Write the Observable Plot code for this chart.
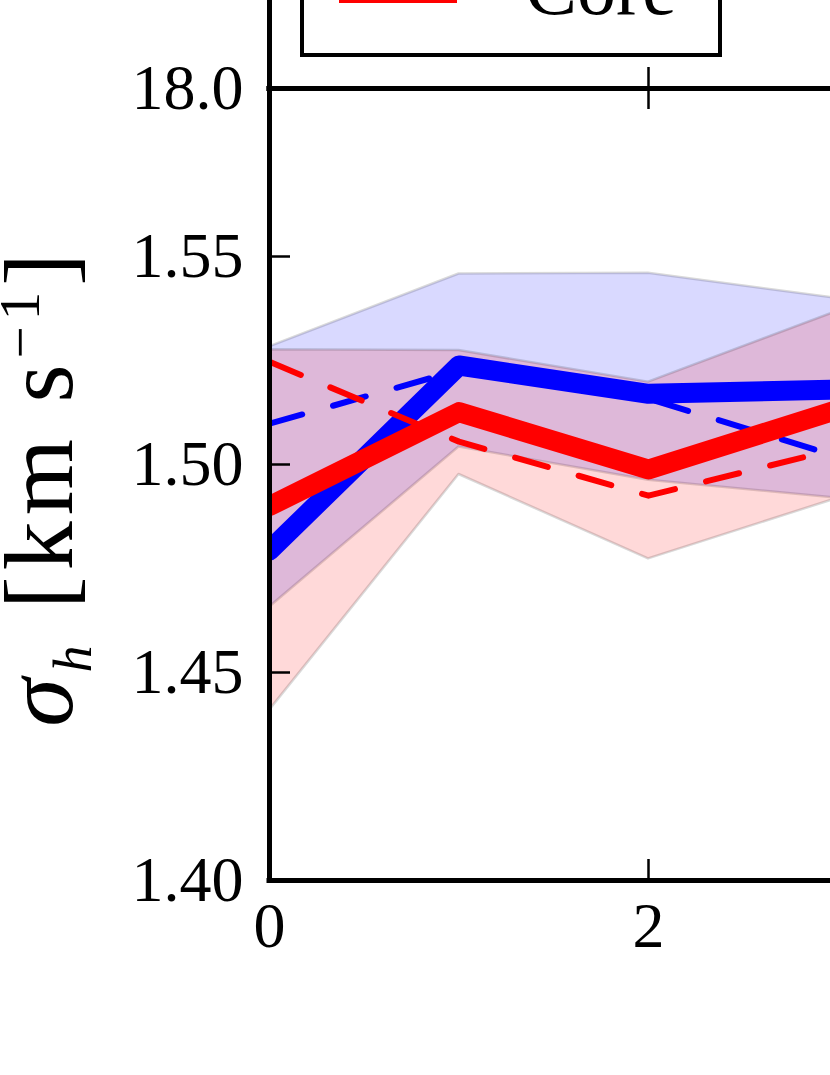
<!DOCTYPE html>
<html><head><meta charset="utf-8">
<script src="https://cdn.jsdelivr.net/npm/d3@7"></script>
<script src="https://cdn.jsdelivr.net/npm/@observablehq/plot@0.6"></script>
<style>
html,body{margin:0;padding:0;background:#fff;overflow:hidden}
#wrap{position:relative;width:830px;height:1075px;overflow:hidden;background:#fff}
#wrap svg{display:block}
</style></head><body><div id="wrap"></div>
<script>
// ---- data ----
const steps     = [0, 1, 2, 3];
const blueHi    = [1.5283, 1.5458, 1.5460, 1.5399];
const blueLo    = [1.4657, 1.5042, 1.4962, 1.4919];
const redHi     = [1.5276, 1.5274, 1.5198, 1.5369];
const redLo     = [1.4409, 1.4976, 1.4773, 1.4919];
const blueMean  = [1.4793, 1.5238, 1.5170, 1.5180];
const redMean   = [1.4900, 1.5126, 1.4988, 1.5132];
const blueMed   = [1.5098, 1.5227, 1.5158, 1.5019];
const redMed    = [1.5247, 1.5055, 1.4925, 1.5038];
const xTicks    = [0, 2];
const yTicks    = [1.40, 1.45, 1.50, 1.55];
const upperTicks = [18.0];
const legendLabels = ["Core"];

const rows = steps.map((t, i) => ({
  t, blueHi: blueHi[i], blueLo: blueLo[i], redHi: redHi[i], redLo: redLo[i],
  blueMean: blueMean[i], redMean: redMean[i], blueMed: blueMed[i], redMed: redMed[i]
}));

const W = 830, ML = 269, OVER = 12;
const xDomain = [0, (W - ML) / 189.5];
const yDomain = [1.40, 1.40 + 792 / 4160];
const upperDomain = [18.0, 18.5];
const serif = "'Liberation Serif', 'DejaVu Serif', serif";
const spine = {stroke: "black", strokeWidth: 5, strokeLinecap: "square"};
const tickSt = {stroke: "black", strokeWidth: 2.5};

const wrap = document.getElementById("wrap");

// ---- upper (cropped) panel ----
const upper = Plot.plot({
  width: W, height: 88,
  marginLeft: ML, marginRight: 0, marginTop: 0, marginBottom: 0,
  x: {domain: xDomain, label: null, axis: null},
  y: {domain: upperDomain, label: null},
  style: {fontFamily: serif, fontSize: "64px", color: "black", background: "transparent", overflow: "visible"},
  marks: [
    Plot.tickX(xTicks, {x: d => d, insetTop: 67, ...tickSt}),
    Plot.ruleX([0], spine),
    Plot.ruleY([upperDomain[0]], spine),
    Plot.axisY(upperTicks, {tickSize: 0, tickPadding: 26, tickFormat: d3.format(".1f"), label: null})
  ]
});
upper.style.marginBottom = `-${OVER}px`;
upper.style.position = "relative";
upper.style.zIndex = "2";
wrap.appendChild(upper);

// legend (cropped at the top of the picture)
const us = d3.select(upper);
us.append("rect").attr("x", 302).attr("y", -60).attr("width", 418).attr("height", 115)
  .attr("fill", "white").attr("stroke", "black").attr("stroke-width", 4);
us.append("line").attr("x1", 339).attr("x2", 457).attr("y1", 0).attr("y2", 0)
  .attr("stroke", "red").attr("stroke-width", 6);
us.append("text").attr("x", 525).attr("y", 14).attr("text-anchor", "start")
  .attr("font-family", serif).attr("font-size", 78).attr("fill", "black").text(legendLabels[0]);

// ---- main panel ----
const frameH = 792, frameW = W - ML;
const main = Plot.plot({
  width: W, height: 987 + OVER,
  marginLeft: ML, marginRight: 0, marginTop: OVER, marginBottom: 195,
  x: {domain: xDomain, label: null},
  y: {domain: yDomain, label: null},
  style: {fontFamily: serif, fontSize: "64px", color: "black", background: "transparent", overflow: "visible"},
  marks: [
    Plot.areaY(rows, {x: "t", y1: "blueLo", y2: "blueHi", fill: "blue", fillOpacity: 0.15,
      stroke: "black", strokeOpacity: 0.15, strokeWidth: 2.5, clip: true}),
    Plot.areaY(rows, {x: "t", y1: "redLo", y2: "redHi", fill: "red", fillOpacity: 0.15,
      stroke: "black", strokeOpacity: 0.15, strokeWidth: 2.5, clip: true}),
    Plot.line(rows, {x: "t", y: "blueMed", stroke: "blue", strokeWidth: 6, strokeDasharray: "34,32", clip: true}),
    Plot.line(rows, {x: "t", y: "blueMean", stroke: "blue", strokeWidth: 20, strokeLinejoin: "round", clip: true}),
    Plot.line(rows, {x: "t", y: "redMed", stroke: "red", strokeWidth: 6, strokeDasharray: "34,32", clip: true}),
    Plot.line(rows, {x: "t", y: "redMean", stroke: "red", strokeWidth: 20, strokeLinejoin: "round", clip: true}),
    Plot.tickX(xTicks, {x: d => d, insetTop: frameH - 21, ...tickSt}),
    Plot.tickX(xTicks, {x: d => d, insetBottom: frameH - 21, ...tickSt}),
    Plot.tickY(yTicks, {y: d => d, insetRight: frameW - 21, ...tickSt}),
    Plot.ruleY([yDomain[0]], spine),
    Plot.ruleY([yDomain[1]], spine),
    Plot.ruleX([0], spine),
    Plot.axisX(xTicks, {tickSize: 0, tickPadding: 21, tickFormat: d => String(d), label: null}),
    Plot.axisY(yTicks, {tickSize: 0, tickPadding: 26, tickFormat: d3.format(".2f"), label: null})
  ]
});
wrap.appendChild(main);

// y-axis label with math-style sub/superscripts
const lab = d3.select(main).append("text")
  .attr("transform", `translate(72, ${487 - 88 + OVER}) rotate(-90)`)
  .attr("text-anchor", "middle").attr("font-family", serif).attr("font-size", 98)
  .attr("fill", "black").attr("letter-spacing", 6);
lab.append("tspan").attr("font-style", "italic").text("σ");
lab.append("tspan").attr("font-style", "italic").attr("font-size", 54).attr("dy", 19).text("h");
lab.append("tspan").attr("dy", -19).text(" [km s");
lab.append("tspan").attr("font-size", 57).attr("dy", -33).text("−1");
lab.append("tspan").attr("dy", 33).text("]");
</script></body></html>
